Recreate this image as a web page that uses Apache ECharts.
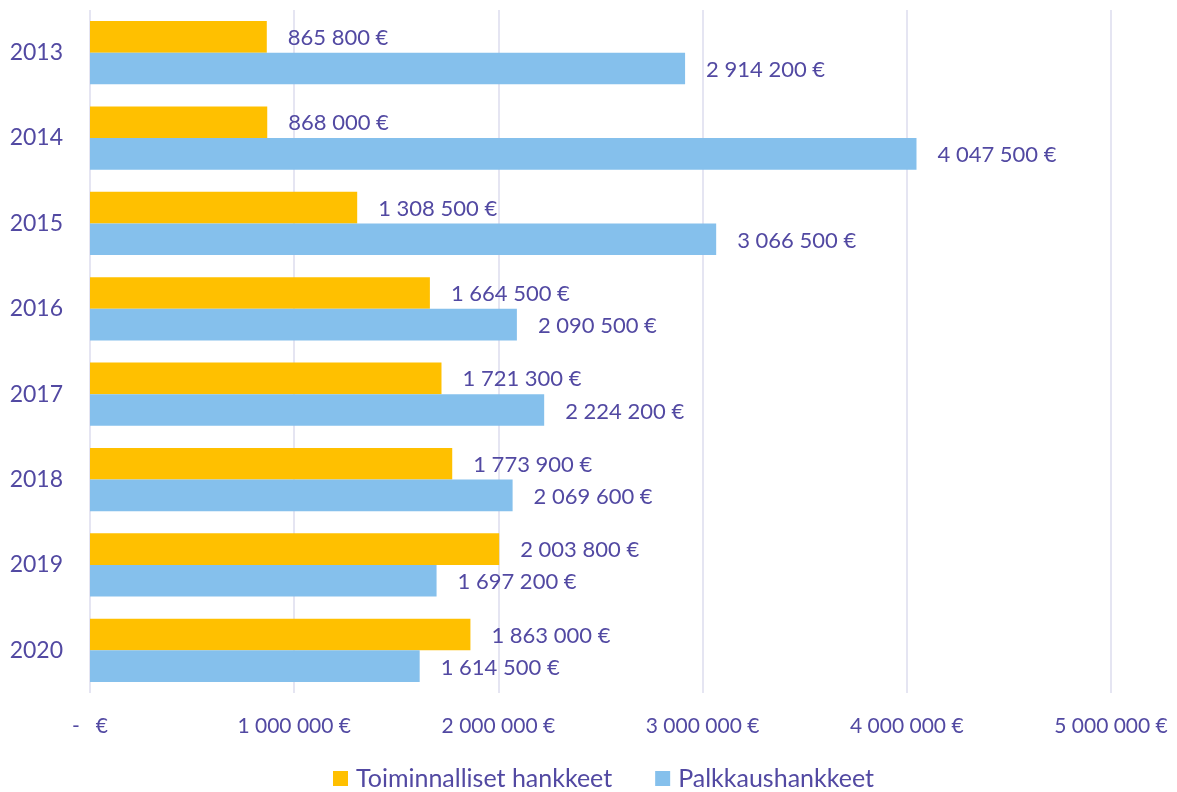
<!DOCTYPE html>
<html>
<head>
<meta charset="utf-8">
<script src="https://cdn.jsdelivr.net/npm/echarts@6/dist/echarts.min.js"></script>
<style>
  html, body { margin: 0; padding: 0; background: #fff; }
  #barChar { width: 1177px; height: 792px; }
</style>
</head>
<body>
<div id="barChar"></div>
<script>
const years = ['2013', '2014', '2015', '2016', '2017', '2018', '2019', '2020']
const toiminnalliset = [865800, 868000, 1308500, 1664500, 1721300, 1773900, 2003800, 1863000]
const palkkaus = [2914200, 4047500, 3066500, 2090500, 2224200, 2069600, 1697200, 1614500]
const xTicks = [0, 1000000, 2000000, 3000000, 4000000, 5000000]

const textColor = '#5249a2'
const font = 'Lato'

// 1 234 567 € -tyylinen muotoilu
function euro (v) {
  if (v === 0) return '-   €'
  return String(v).replace(/\B(?=(\d{3})+(?!\d))/g, ' ') + ' €'
}

const myBarChar = echarts.init(document.getElementById('barChar'))
myBarChar.setOption({
  animation: false,
  textStyle: { fontFamily: font, color: textColor },
  grid: { left: 90, right: 66, top: 10, bottom: 99, containLabel: false },
  legend: {
    data: ['Toiminnalliset hankkeet', 'Palkkaushankkeet'],
    left: 333,
    top: 766,
    padding: 0,
    icon: 'rect',
    itemWidth: 15,
    itemHeight: 15,
    itemGap: 43,
    textStyle: { fontFamily: font, fontSize: 25, color: textColor, padding: [0, 0, 0, 3] }
  },
  xAxis: {
    type: 'value',
    min: xTicks[0],
    max: xTicks[xTicks.length - 1],
    interval: 1000000,
    axisLine: { show: false },
    axisTick: { show: false },
    axisLabel: {
      margin: 23,
      fontFamily: font,
      fontSize: 21,
      color: textColor,
      formatter: euro
    },
    splitLine: { lineStyle: { color: '#dcdcee', width: 1.5 } }
  },
  yAxis: {
    type: 'category',
    inverse: true,
    data: years,
    axisLine: { show: false },
    axisTick: { show: false },
    axisLabel: { margin: 27, fontFamily: font, fontSize: 23, color: textColor }
  },
  series: [
    {
      name: 'Toiminnalliset hankkeet',
      type: 'bar',
      barGap: '0%',
      barCategoryGap: '26%',
      itemStyle: { color: '#ffc000' },
      label: {
        show: true,
        position: 'right',
        distance: 21,
        offset: [0, 1],
        fontFamily: font,
        fontSize: 22,
        color: textColor,
        formatter: p => euro(p.value)
      },
      data: toiminnalliset
    },
    {
      name: 'Palkkaushankkeet',
      type: 'bar',
      barGap: '0%',
      barCategoryGap: '26%',
      itemStyle: { color: '#85c0ec' },
      label: {
        show: true,
        position: 'right',
        distance: 21,
        offset: [0, 1.5],
        fontFamily: font,
        fontSize: 22,
        color: textColor,
        formatter: p => euro(p.value)
      },
      data: palkkaus
    }
  ]
})
</script>
</body>
</html>
